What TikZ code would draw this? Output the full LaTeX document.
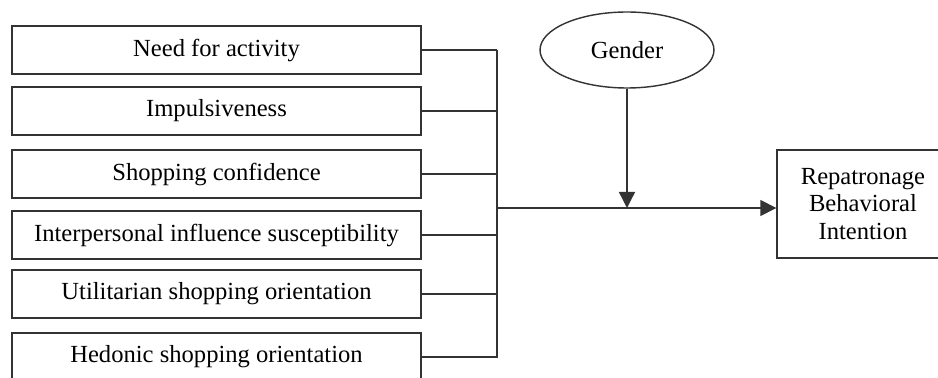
\documentclass[tikz,border=0pt]{standalone}
\usepackage{fontspec}
\setmainfont{Liberation Serif}
\usepackage{tikz}
\usetikzlibrary{arrows.meta}
\usetikzlibrary{positioning}
\usetikzlibrary{shapes.geometric}
\begin{document}
\begin{tikzpicture}[x=0.02cm,y=-0.02cm,>={Triangle[length=0.32cm,width=0.32cm]},
	font=\fontsize{14}{15.5}\selectfont,
	line width=0.8pt,draw=black!80,
	factor/.style={draw,rectangle,minimum width=8.18cm,minimum height=0.96cm,inner sep=0pt},
	moder/.style={draw,ellipse,minimum width=3.48cm,minimum height=1.52cm,inner sep=0pt},
	outcome/.style={draw,rectangle,minimum width=4.2cm,minimum height=2.16cm,align=center,inner sep=0pt}]

			\clip (0,0) rectangle (938,378);

			\node[factor] (a) at (216.5, 50) {Need for activity};
			\node[factor] (b) at (216.5, 111) {Impulsiveness};
			\node[factor] (c) at (216.5, 174) {Shopping confidence};
			\node[factor] (d) at (216.5, 235) {Interpersonal influence susceptibility};
			\node[factor] (e) at (216.5, 294) {Utilitarian shopping orientation};
			\node[factor] (f) at (216.5, 357) {Hedonic shopping orientation};

			\node[moder] (g) at (627, 50) {Gender};
			\node[outcome] (r) at (882, 204) {};
			\node[align=center] (rt) at (863, 204) {Repatronage\\Behavioral\\Intention};

			\coordinate (top) at (497, 50);
			\coordinate (bot) at (497, 358);
			\coordinate (mid) at (497, 208);
			\coordinate (hit) at (627, 208);

			\draw (a.east) -- (top);
			\draw (b.east) -- (b.east -| top);
			\draw (c.east) -- (c.east -| top);
			\draw (d.east) -- (d.east -| top);
			\draw (e.east) -- (e.east -| top);
			\draw (f.east) -- (f.east -| top);
			\draw (top) -- (bot);

			\draw[->] (mid) -- (mid -| r.west);
			\draw[->] (g.south) -- (hit);

		\end{tikzpicture}
\end{document}
